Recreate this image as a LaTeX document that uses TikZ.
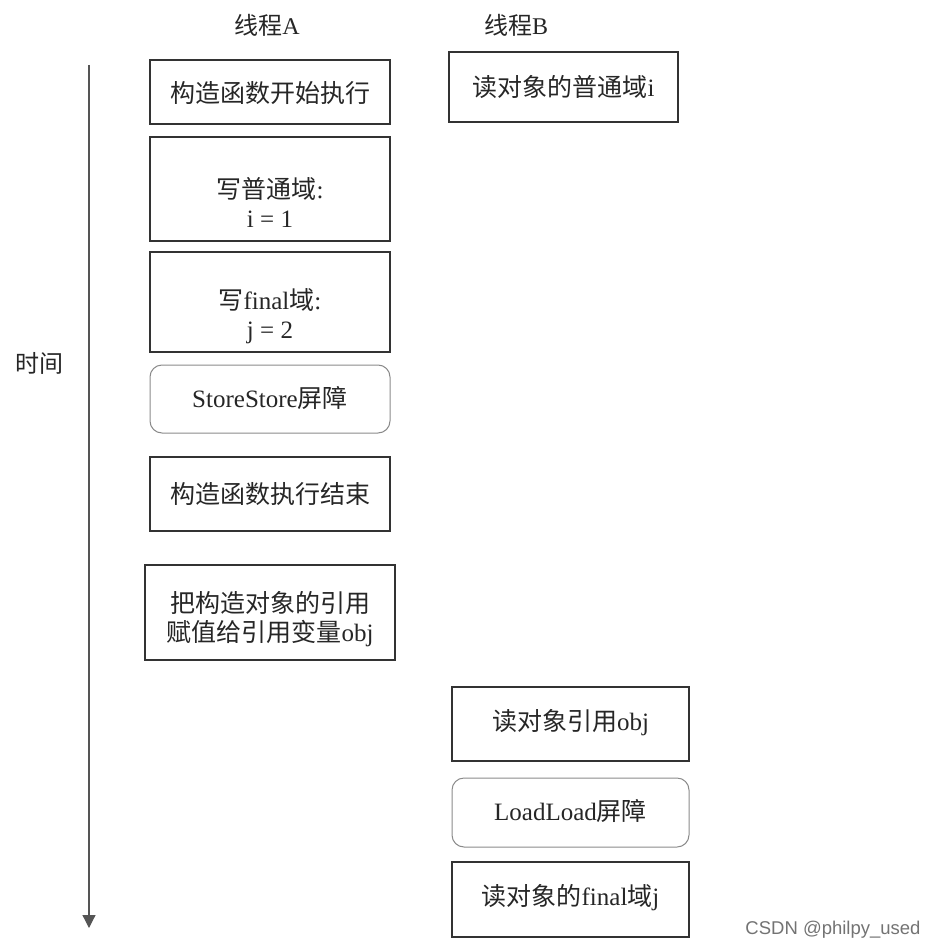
\documentclass[tikz,border=0pt]{standalone}
\usepackage{fontspec}
\setmainfont{Liberation Serif}
\newfontfamily\cjk{Noto Sans CJK SC}
\usetikzlibrary{arrows.meta}
\definecolor{boxline}{HTML}{333333}
\definecolor{softline}{HTML}{8A8A8A}
\definecolor{axisline}{HTML}{555555}
\begin{document}
\begin{tikzpicture}[x=1pt,y=-1pt,
  box/.style={draw=boxline,line width=1.3pt,inner sep=0pt},
  rbox/.style={draw=softline,line width=1pt,rounded corners=12pt,inner sep=0pt},
  lbl/.style={font=\fontsize{25}{29}\selectfont,text=black!85,align=center,inner sep=0pt},
  head/.style={font=\fontsize{24}{29}\selectfont,text=black!85,inner sep=0pt}]
\useasboundingbox (0,0) rectangle (936,950);
% time axis
\coordinate (t0) at (89,65);
\coordinate (t1) at (89,928);
\draw[axisline,line width=1.2pt,-{Triangle[length=13pt,width=13pt]}] (t0) -- (t1);
\node[head] (time) at (40,363) {\cjk 时间};
% headers
\node[head] (ha) at (267,25) {{\cjk 线程}A};
\node[head] (hb) at (516,25) {{\cjk 线程}B};
% thread A
\node[box,minimum width=240pt,minimum height=64pt] (a1) at (270,92) {};
\node[lbl] (a1t) at (270,93) {\cjk 构造函数开始执行};
\node[box,minimum width=240pt,minimum height=104pt] (a2) at (270,189) {};
\node[lbl] (a2t) at (270,202) {{\cjk 写普通域}:\\ i = 1};
\node[box,minimum width=240pt,minimum height=100pt] (a3) at (270,302) {};
\node[lbl] (a3t) at (270,316) {{\cjk 写}final{\cjk 域}:\\ j = 2};
\node[rbox,minimum width=240pt,minimum height=68pt] (a4) at (270,399) {};
\node[lbl] (a4t) at (270,398) {StoreStore{\cjk 屏障}};
\node[box,minimum width=240pt,minimum height=74pt] (a5) at (270,494) {};
\node[lbl] (a5t) at (270,494) {\cjk 构造函数执行结束};
\node[box,minimum width=250pt,minimum height=95pt] (a6) at (270,612.5) {};
\node[lbl] (a6t) at (270,619) {{\cjk 把构造对象的引用}\\{\cjk 赋值给引用变量}obj};
% thread B
\node[box,minimum width=229pt,minimum height=70pt] (b1) at (563.5,87) {};
\node[lbl] (b1t) at (563.5,87) {{\cjk 读对象的普通域}i};
\node[box,minimum width=237pt,minimum height=74pt] (b2) at (570.5,724) {};
\node[lbl] (b2t) at (570.5,723) {{\cjk 读对象引用}obj};
\node[rbox,minimum width=237pt,minimum height=69pt] (b3) at (570.5,812.5) {};
\node[lbl] (b3t) at (570.5,811) {LoadLoad{\cjk 屏障}};
\node[box,minimum width=237pt,minimum height=75pt] (b4) at (570.5,899.5) {};
\node[lbl] (b4t) at (570.5,898) {{\cjk 读对象的}final{\cjk 域}j};
% watermark
\node[font=\fontsize{18.5}{21}\selectfont\fontspec{Liberation Sans},text=black!55,inner sep=0pt] (wm) at (833,930) {CSDN @philpy\_used};
\end{tikzpicture}
\end{document}
